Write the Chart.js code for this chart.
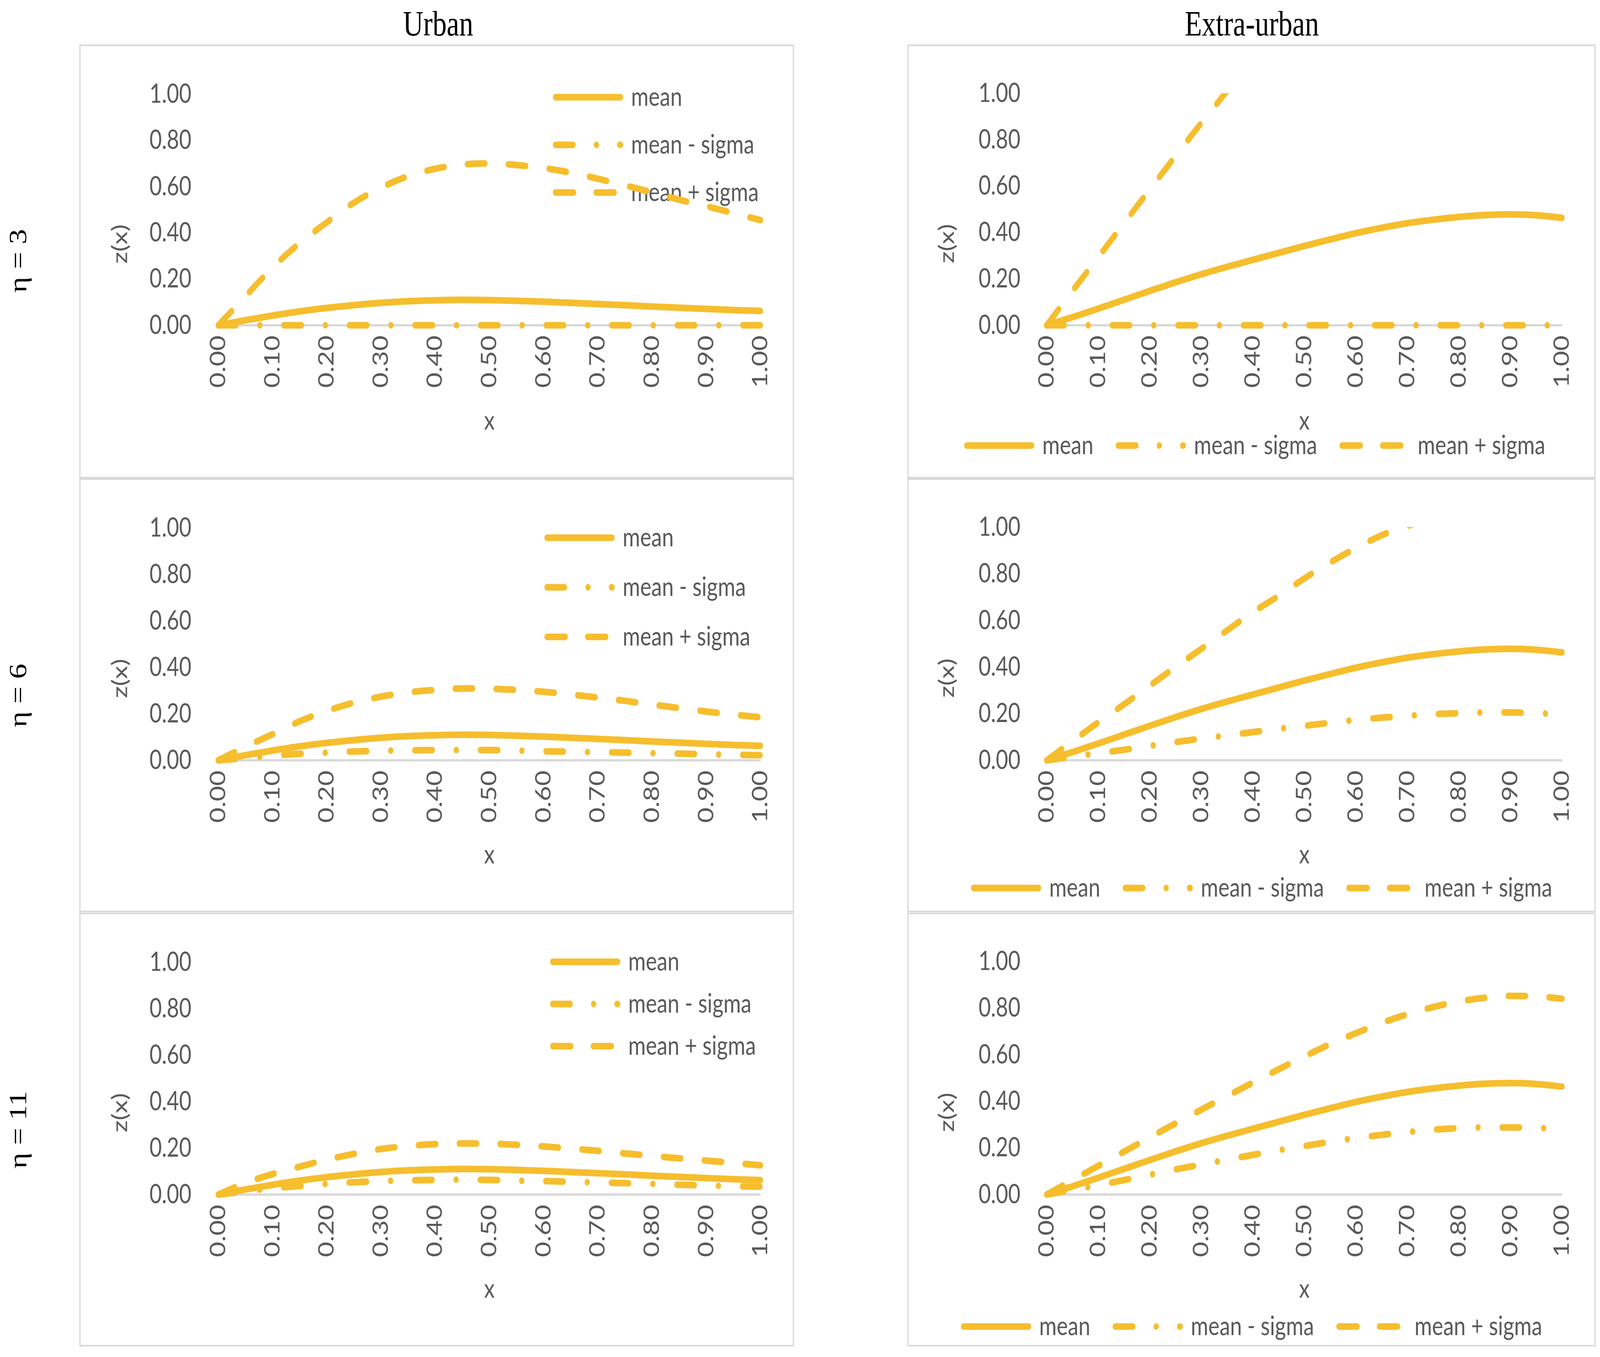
<!DOCTYPE html>
<html>
<head>
<meta charset="utf-8">
<title>z(x) urban / extra-urban</title>
<script src="https://cdn.jsdelivr.net/npm/chart.js@4.4.1/dist/chart.umd.min.js"></script>
<style>
  html, body { margin: 0; padding: 0; background: #fff; overflow: hidden; }
  #wrap { position: relative; overflow: hidden; background: #fff; }
  #page { position: absolute; left: 0; top: 0; width: 5124px; height: 3475px; background: #fff;
          transform-origin: 0 0; }
  .frame { position: absolute; border: 4px solid #d9d9d9; box-sizing: border-box; }
  canvas { position: absolute; }
  .col { position: absolute; font-family: "Liberation Serif", serif; font-size: 90px; color: #000;
         transform: translate(-50%, -50%); white-space: nowrap; }
  .row { position: absolute; font-family: "Liberation Serif", serif; font-size: 78px; color: #000;
         transform: translate(-50%, -50%) rotate(-90deg); white-space: nowrap; }
</style>
</head>
<body>
<div id="wrap">
<div id="page">
  <div class="col" style="left:1403px; top:60px">Urban</div>
  <div class="col" style="left:4009px; top:60px">Extra-urban</div>
  <div class="row" style="left:58px; top:668px">η = 3</div>
  <div class="row" style="left:58px; top:1781px">η = 6</div>
  <div class="row" style="left:58px; top:2893px">η = 11</div>
</div>
</div>
<script>
// x samples (step 0.05)
const xs = [0.00, 0.05, 0.10, 0.15, 0.20, 0.25, 0.30, 0.35, 0.40, 0.45, 0.50,
            0.55, 0.60, 0.65, 0.70, 0.75, 0.80, 0.85, 0.90, 0.95, 1.00];
const seriesNames = ['mean', 'mean - sigma', 'mean + sigma'];

// urban
const urbanMean    = [0, 0.022, 0.042, 0.060, 0.075, 0.087, 0.097, 0.104, 0.108, 0.110, 0.109,
                      0.106, 0.102, 0.097, 0.092, 0.087, 0.081, 0.076, 0.071, 0.066, 0.062];
const urbanMinus3  = [0, 0, 0, 0, 0, 0, 0, 0, 0, 0, 0, 0, 0, 0, 0, 0, 0, 0, 0, 0, 0];
const urbanPlus3   = [0, 0.125, 0.25, 0.355, 0.445, 0.53, 0.595, 0.645, 0.677, 0.695, 0.700,
                      0.693, 0.680, 0.660, 0.634, 0.605, 0.575, 0.543, 0.515, 0.485, 0.455];
const urbanMinus6  = [0, 0.010, 0.020, 0.028, 0.033, 0.038, 0.041, 0.043, 0.044, 0.044, 0.044,
                      0.042, 0.039, 0.037, 0.035, 0.033, 0.031, 0.029, 0.026, 0.024, 0.022];
const urbanPlus6   = [0, 0.058, 0.112, 0.168, 0.212, 0.248, 0.274, 0.292, 0.303, 0.309, 0.308,
                      0.303, 0.295, 0.283, 0.270, 0.256, 0.240, 0.225, 0.210, 0.197, 0.185];
const urbanMinus11 = [0, 0.014, 0.027, 0.037, 0.046, 0.053, 0.058, 0.061, 0.063, 0.064, 0.063,
                      0.060, 0.058, 0.055, 0.052, 0.049, 0.046, 0.042, 0.039, 0.036, 0.034];
const urbanPlus11  = [0, 0.050, 0.088, 0.120, 0.150, 0.175, 0.196, 0.209, 0.217, 0.220, 0.219,
                      0.214, 0.207, 0.198, 0.188, 0.177, 0.166, 0.156, 0.146, 0.136, 0.126];

// extra-urban
const extraMean    = [0, 0.035, 0.072, 0.110, 0.148, 0.185, 0.220, 0.252, 0.282, 0.312, 0.342,
                      0.370, 0.397, 0.420, 0.440, 0.455, 0.467, 0.475, 0.478, 0.474, 0.463];
const extraMinus3  = [0, 0, 0, 0, 0, 0, 0, 0, 0, 0, 0, 0, 0, 0, 0, 0, 0, 0, 0, 0, 0];
const extraPlus3   = [0, 0.148, 0.293, 0.440, 0.585, 0.730, 0.872, 1.010, 1.150];
const extraMinus6  = [0, 0.015, 0.031, 0.045, 0.062, 0.078, 0.093, 0.107, 0.121, 0.135, 0.148,
                      0.161, 0.173, 0.183, 0.191, 0.198, 0.202, 0.205, 0.205, 0.202, 0.197];
const extraPlus6   = [0, 0.082, 0.163, 0.240, 0.320, 0.400, 0.478, 0.557, 0.635, 0.705, 0.780,
                      0.848, 0.910, 0.965, 1.005, 1.040];
const extraMinus11 = [0, 0.020, 0.040, 0.062, 0.085, 0.108, 0.128, 0.150, 0.170, 0.190, 0.208,
                      0.226, 0.242, 0.256, 0.268, 0.278, 0.285, 0.288, 0.288, 0.286, 0.280];
const extraPlus11  = [0, 0.062, 0.123, 0.184, 0.245, 0.305, 0.364, 0.422, 0.480, 0.537, 0.592,
                      0.645, 0.692, 0.736, 0.773, 0.804, 0.828, 0.844, 0.852, 0.850, 0.840];

const GOLD = '#F6BE2D';
const TEXT = '#595959';
const FONT = 'Lato';
const FS = 68;
const PANEL_H = 1111;
const LINE_W = 17;
const DASHES = [[], [56, 77, 0.01, 77], [56, 75]];
const LEGEND_DASHES = [[], [56, 75, 0.01, 75], [58, 72]];
const SAMPLE_W = 208;

// the browser window is not 5124 wide, so stretch the 5124x3475 page over it
const wrap = document.getElementById('wrap');
const page = document.getElementById('page');
const vw = window.innerWidth, vh = window.innerHeight;
const sx = vw / 5124, sy = vh / 3475;
wrap.style.width = vw + 'px';
wrap.style.height = vh + 'px';
page.style.transform = 'scale(' + sx + ',' + sy + ')';
const DPR = (window.devicePixelRatio || 1) * Math.max(sx, sy);

Chart.defaults.font.family = FONT;
Chart.defaults.color = TEXT;

// moves the legend to where Excel had put it
const placeLegend = {
  id: 'placeLegend',
  afterLayout(chart, args, opts) {
    const lg = chart.legend;
    const pad = lg.options.labels.padding;
    lg.left = opts.x - pad;
    lg.top = opts.y - pad;
    lg.right = chart.width;
    lg.bottom = chart.height;
    lg.width = lg.right - lg.left;
    lg.height = lg.bottom - lg.top;
  }
};

// y axis title, sits a bit below the middle of the axis like in the original
const zTitle = {
  id: 'zTitle',
  afterDraw(chart, args, opts) {
    const { ctx, chartArea } = chart;
    ctx.save();
    ctx.translate(opts.x, (chartArea.top + chartArea.bottom) / 2 + opts.dy);
    ctx.rotate(-Math.PI / 2);
    ctx.font = FS + 'px ' + FONT;
    ctx.fillStyle = TEXT;
    ctx.textAlign = 'center';
    ctx.textBaseline = 'middle';
    ctx.fillText('z(x)', 0, 0);
    ctx.restore();
  }
};

// plotTop/plotBottom = plot area edges inside the panel, lx/ly = first legend entry
const panels = [
  { left: 254,  top: 114,  w: 2289, plotTop: 89, plotBottom: 719,
    mean: urbanMean, minus: urbanMinus3,  plus: urbanPlus3,
    side: true,  lx: 1525, ly: 101, lpad: 54 },
  { left: 2906, top: 114,  w: 2204, plotTop: 89, plotBottom: 719,
    mean: extraMean, minus: extraMinus3,  plus: extraPlus3,
    side: false, lx: 190,  ly: 993, lpad: 80 },
  { left: 254,  top: 1225, w: 2289, plotTop: 92, plotBottom: 722,
    mean: urbanMean, minus: urbanMinus6,  plus: urbanPlus6,
    side: true,  lx: 1498, ly: 118, lpad: 59 },
  { left: 2906, top: 1225, w: 2204, plotTop: 92, plotBottom: 722,
    mean: extraMean, minus: extraMinus6,  plus: extraPlus6,
    side: false, lx: 212,  ly: 1015, lpad: 80 },
  { left: 254,  top: 2337, w: 2289, plotTop: 93, plotBottom: 722,
    mean: urbanMean, minus: urbanMinus11, plus: urbanPlus11,
    side: true,  lx: 1516, ly: 92,  lpad: 40 },
  { left: 2906, top: 2337, w: 2204, plotTop: 93, plotBottom: 722,
    mean: extraMean, minus: extraMinus11, plus: extraPlus11,
    side: false, lx: 180,  ly: 1026, lpad: 80 }
];

// legend entries straight from the datasets so the dash patterns show
function legendItems(chart) {
  return chart.data.datasets.map((ds, i) => ({
    text: ds.label,
    fillStyle: ds.borderColor,
    strokeStyle: ds.borderColor,
    lineWidth: ds.borderWidth,
    lineDash: LEGEND_DASHES[i],
    lineDashOffset: 0,
    lineCap: 'round',
    lineJoin: 'round',
    pointStyle: 'line',
    fontColor: TEXT,
    hidden: false,
    datasetIndex: i
  }));
}

function makeChart(p) {
  const frame = document.createElement('div');
  frame.className = 'frame';
  Object.assign(frame.style, { left: p.left + 'px', top: p.top + 'px', width: p.w + 'px', height: PANEL_H + 'px' });
  page.appendChild(frame);

  const cv = document.createElement('canvas');
  Object.assign(cv.style, { left: p.left + 'px', top: p.top + 'px', width: p.w + 'px', height: PANEL_H + 'px' });
  cv.width = p.w;
  cv.height = PANEL_H;
  page.appendChild(cv);

  const plotLeft = p.side ? 445 : 446;
  const plotRight = p.side ? p.w - 2198 : p.w - 2100;
  const legendH = p.side ? 0 : 2;

  const datasets = [p.mean, p.minus, p.plus].map((vals, i) => ({
    label: seriesNames[i],
    data: xs.map((x, k) => ({ x: x, y: vals[k] })).filter(pt => pt.y !== undefined),
    borderColor: GOLD,
    backgroundColor: GOLD,
    borderWidth: LINE_W,
    borderDash: DASHES[i],
    borderCapStyle: 'round',
    borderJoinStyle: 'round',
    pointRadius: 0,
    pointHoverRadius: 0,
    pointStyle: 'line',
    cubicInterpolationMode: 'monotone',
    fill: false,
    clip: { left: 20, top: 0, right: 20, bottom: 20 }
  }));

  new Chart(cv, {
    type: 'line',
    data: { datasets: datasets },
    options: {
      responsive: false,
      animation: false,
      devicePixelRatio: DPR,
      layout: { padding: { left: 0, top: p.plotTop, right: plotRight, bottom: 0 } },
      plugins: {
        tooltip: { enabled: false },
        legend: {
          display: true,
          position: p.side ? 'chartArea' : 'bottom',
          align: 'start',
          maxHeight: p.side ? undefined : legendH,
          labels: {
            usePointStyle: true,
            pointStyle: 'line',
            pointStyleWidth: SAMPLE_W,
            padding: p.lpad,
            color: TEXT,
            font: { family: FONT, size: FS },
            generateLabels: legendItems
          }
        },
        placeLegend: { x: p.lx, y: p.ly },
        zTitle: { x: p.side ? 131 : 127, dy: 88 }
      },
      scales: {
        x: {
          type: 'linear',
          min: 0,
          max: 1,
          grid: { display: false, drawTicks: false },
          border: { display: true, color: '#D9D9D9', width: 6 },
          ticks: {
            stepSize: 0.1,
            autoSkip: false,
            minRotation: 90,
            maxRotation: 90,
            padding: 26,
            color: TEXT,
            font: { family: FONT, size: FS },
            callback: v => Number(v).toFixed(2)
          },
          title: {
            display: true,
            text: 'x',
            color: TEXT,
            font: { family: FONT, size: FS },
            padding: { top: 0, bottom: PANEL_H - legendH - 964 - FS * 0.6 }
          },
          afterFit: s => { s.height = PANEL_H - p.plotBottom - legendH; }
        },
        y: {
          min: 0,
          max: 1,
          grid: { display: false, drawTicks: false },
          border: { display: false },
          ticks: {
            stepSize: 0.2,
            padding: p.side ? 86 : 84,
            color: TEXT,
            font: { family: FONT, size: FS },
            callback: v => Number(v).toFixed(2)
          },
          afterFit: s => { s.width = plotLeft; }
        }
      }
    },
    plugins: [placeLegend, zTitle]
  });
}

panels.forEach(makeChart);
</script>
</body>
</html>
